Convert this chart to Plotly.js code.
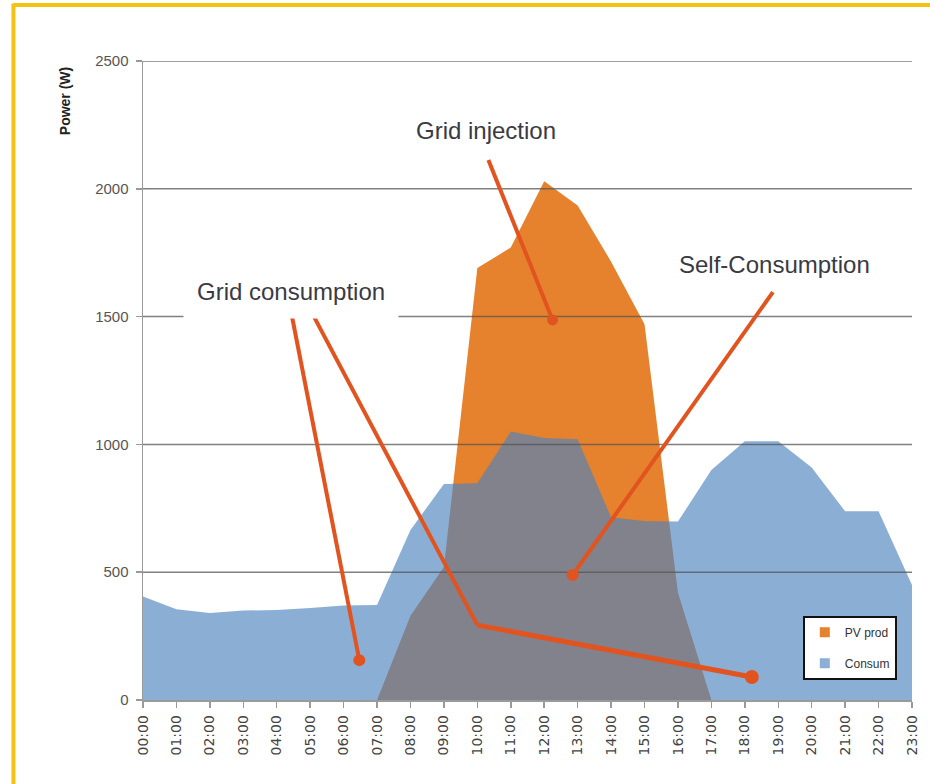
<!DOCTYPE html>
<html>
<head>
<meta charset="utf-8">
<script src="https://cdn.plot.ly/plotly-3.0.1.min.js"></script>
<style>
  html, body { margin: 0; padding: 0; background: #ffffff; }
  #chart { width: 930px; height: 784px; }
</style>
</head>
<body>
<div id="chart"></div>
<script>
// ---- data ----
var hours = ["00:00","01:00","02:00","03:00","04:00","05:00","06:00","07:00","08:00","09:00","10:00","11:00",
             "12:00","13:00","14:00","15:00","16:00","17:00","18:00","19:00","20:00","21:00","22:00","23:00"];
var pvProd = [0, 0, 0, 0, 0, 0, 0, 0, 330, 520, 1690, 1770, 2030, 1935, 1715, 1470, 420, 0, 0, 0, 0, 0, 0, 0];
var consum = [405, 355, 340, 350, 352, 360, 370, 372, 665, 845, 848, 1050, 1025, 1020, 715, 700, 698, 900, 1012, 1012, 910, 738, 738, 450];
var yTicks = [0, 500, 1000, 1500, 2000, 2500];
var seriesNames = ["PV prod", "Consum"];
var calloutLabels = ["Grid injection", "Self-Consumption", "Grid consumption"];
var yTitle = "Power (W)";

// ---- styles ----
var orange = "#E6822E";
var blueA = "rgba(77,131,190,0.65)";
var blueSolid = "#8BAED6";
var arrowCol = "#E2541F";
var textCol = "#3A3A44";
var labelFont = "'Liberation Sans', Arial, sans-serif";

var traces = [
  { x: hours, y: pvProd, name: seriesNames[0], type: "scatter", mode: "none",
    fill: "tozeroy", fillcolor: orange, showlegend: false, hoverinfo: "skip" },
  { x: hours, y: consum, name: seriesNames[1], type: "scatter", mode: "none",
    fill: "tozeroy", fillcolor: blueA, showlegend: false, hoverinfo: "skip" },
  // legend keys (square swatches, like the original)
  { x: [null], y: [null], name: seriesNames[0], type: "scatter", mode: "markers",
    marker: { symbol: "square", size: 10, color: orange }, legendgroup: "a", showlegend: true },
  { x: [null], y: [null], name: seriesNames[1], type: "scatter", mode: "markers",
    marker: { symbol: "square", size: 10, color: blueSolid }, legendgroup: "b", showlegend: true }
];

var shapes = [];
// grid lines drawn above the areas
yTicks.forEach(function (v) {
  if (v === 0) return;
  shapes.push({ type: "line", xref: "x", yref: "y", x0: 0, x1: 23, y0: v, y1: v,
    layer: "above", line: { color: "rgba(85,85,85,0.75)", width: 1.5 } });
});

// callout pointer lines (hour index / watts)
function seg(x0, y0, x1, y1, w) {
  shapes.push({ type: "line", xref: "x", yref: "y", x0: x0, y0: y0, x1: x1, y1: y1,
    layer: "above", line: { color: arrowCol, width: w || 4 } });
}
function dot(x, y, r) {
  shapes.push({ type: "circle", xref: "x", yref: "y", xsizemode: "pixel", ysizemode: "pixel",
    xanchor: x, yanchor: y, x0: -r, x1: r, y0: -r, y1: r, layer: "above",
    fillcolor: arrowCol, line: { width: 0 } });
}
seg(10.33, 2113, 12.25, 1487); dot(12.25, 1487, 5.5);
seg(18.84, 1596, 12.85, 489); dot(12.85, 489, 6);
seg(4.43, 1518, 6.47, 156); dot(6.47, 156, 6);
seg(5.12, 1498, 10.0, 293); seg(10.0, 293, 18.21, 90, 5); dot(18.21, 90, 7);

// gold frame
shapes.push({ type: "line", xref: "paper", yref: "paper", x0: -0.168, x1: 1.04, y0: 1.0875, y1: 1.0875,
  line: { color: "#F5C214", width: 4 } });
shapes.push({ type: "line", xref: "paper", yref: "paper", x0: -0.1685, x1: -0.1685, y0: 1.09, y1: -0.15,
  line: { color: "#F5C214", width: 4 } });

var annotations = [
  { xref: "x", yref: "y", x: 10.25, y: 2230, text: calloutLabels[0], showarrow: false,
    font: { family: labelFont, size: 24, color: textCol } },
  { xref: "x", yref: "y", x: 18.9, y: 1705, text: calloutLabels[1], showarrow: false,
    font: { family: labelFont, size: 24, color: textCol } },
  { xref: "x", yref: "y", x: 4.43, y: 1600, text: calloutLabels[2], showarrow: false,
    bgcolor: "#ffffff", borderpad: 13,
    font: { family: labelFont, size: 24, color: textCol } },
  { xref: "paper", yref: "paper", x: -0.1015, y: 0.937, xanchor: "center", yanchor: "middle",
    text: "<b>" + yTitle + "</b>", showarrow: false,
    textangle: -90, font: { family: "'Liberation Sans', Arial, sans-serif", size: 14, color: "#222" } }
];

var layout = {
  width: 930, height: 784,
  margin: { l: 143, r: 18, t: 61, b: 84, pad: 0 },
  paper_bgcolor: "#ffffff", plot_bgcolor: "#ffffff",
  showlegend: true,
  legend: {
    x: 0.858, y: 0.132, xanchor: "left", yanchor: "top",
    bgcolor: "#ffffff", bordercolor: "#111", borderwidth: 2,
    traceorder: "grouped", tracegroupgap: 12, itemwidth: 30,
    font: { family: labelFont, size: 12, color: "#333" }
  },
  xaxis: {
    type: "category", range: [0, 23], showgrid: false, zeroline: false,
    showline: true, linecolor: "#9a9a9a", linewidth: 1.5,
    ticks: "outside", ticklen: 6, tickcolor: "#9a9a9a", tickwidth: 1.5,
    tickangle: -90, ticklabelstandoff: 2,
    tickfont: { family: "'DejaVu Sans', sans-serif", size: 14, color: "#444" }
  },
  yaxis: {
    range: [0, 2500], tickvals: yTicks, showgrid: false, zeroline: false,
    showline: true, linecolor: "#9a9a9a", linewidth: 1.5,
    ticks: "outside", ticklen: 6, tickcolor: "#9a9a9a", tickwidth: 1.5,
    ticklabelstandoff: 4,
    tickfont: { family: "'Liberation Sans', Arial, sans-serif", size: 15, color: "#555" }
  },
  shapes: shapes,
  annotations: annotations,
  hovermode: false
};

Plotly.newPlot("chart", traces, layout, { displayModeBar: false, staticPlot: true });
</script>
</body>
</html>
